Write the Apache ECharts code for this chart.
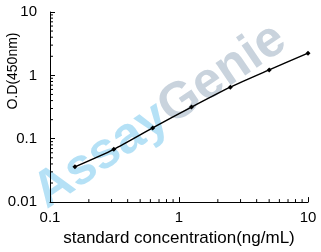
<!DOCTYPE html>
<html>
<head>
<meta charset="utf-8">
<script src="https://cdn.jsdelivr.net/npm/echarts@6/dist/echarts.min.js"></script>
<style>html,body{margin:0;padding:0;background:#fff}#c{width:321px;height:252px}</style>
</head>
<body>
<div id="c"></div>
<script>
var concentrations = [0.156, 0.3125, 0.625, 1.25, 2.5, 5, 10];
var odValues = [0.036, 0.068, 0.148, 0.316, 0.652, 1.22, 2.24];
var xMinorTicks = [0.2,0.3,0.4,0.5,0.6,0.7,0.8,0.9,2,3,4,5,6,7,8,9];
var yMinorTicks = [0.02,0.03,0.04,0.05,0.06,0.07,0.08,0.09,0.2,0.3,0.4,0.5,0.6,0.7,0.8,0.9,2,3,4,5,6,7,8,9];
var xTitle = 'standard concentration(ng/mL)';
var yTitle = 'O.D(450nm)';

var FONT = '"Liberation Sans", Arial, sans-serif';
var chart = echarts.init(document.getElementById('c'), null, {renderer: 'canvas'});

function tickSeries(vals, isX) {
  return {
    type: 'custom',
    silent: true,
    z: 3,
    data: vals.map(function (v) { return isX ? [v, 0.01] : [0.1, v]; }),
    renderItem: function (params, api) {
      var p = api.coord([api.value(0), api.value(1)]);
      var shape = isX ? {x1: p[0], y1: p[1], x2: p[0], y2: p[1] - 3}
                      : {x1: p[0], y1: p[1], x2: p[0] + 3, y2: p[1]};
      return {type: 'line', shape: shape, style: {stroke: '#000', lineWidth: 1}};
    }
  };
}

chart.setOption({
  animation: false,
  backgroundColor: '#fff',
  grid: {left: 50, right: 13, top: 12, bottom: 46},
  graphic: [
    {
      type: 'text', z: -10, x: 160, y: 116, rotation: 34 * Math.PI / 180,
      style: {
        text: '{a|Assay}{g|Genie}',
        align: 'center', verticalAlign: 'middle',
        rich: {
          a: {fill: '#b5e1f6', font: 'bold 51px ' + FONT},
          g: {fill: '#c9d3dd', font: 'bold 51px ' + FONT}
        }
      }
    },
    {
      type: 'text', x: 13, y: 71, rotation: Math.PI / 2,
      style: {text: yTitle, fill: '#000', font: '14px ' + FONT, align: 'center', verticalAlign: 'middle'}
    }
  ],
  xAxis: {
    type: 'log', logBase: 10, min: 0.1, max: 10,
    name: xTitle, nameLocation: 'middle', nameGap: 22,
    nameTextStyle: {color: '#000', fontSize: 17, fontFamily: FONT},
    axisLine: {show: true, lineStyle: {color: '#000', width: 1}},
    axisTick: {show: true, inside: true, length: 5, lineStyle: {color: '#000'}},
    axisLabel: {color: '#000', fontSize: 15, fontFamily: FONT, margin: 8,
      formatter: function (v) { return String(+v.toPrecision(3)); }},
    splitLine: {show: false}
  },
  yAxis: {
    type: 'log', logBase: 10, min: 0.01, max: 10,
    axisLine: {show: true, lineStyle: {color: '#000', width: 1}},
    axisTick: {show: true, inside: true, length: 5, lineStyle: {color: '#000'}},
    axisLabel: {color: '#000', fontSize: 15, fontFamily: FONT, margin: 13,
      formatter: function (v) { return String(+v.toPrecision(3)); }},
    splitLine: {show: false}
  },
  series: [
    {
      type: 'line', z: 5,
      data: concentrations.map(function (c, i) { return [c, odValues[i]]; }),
      smooth: 0.25,
      symbol: 'diamond', symbolSize: 5,
      lineStyle: {color: '#000', width: 1.5},
      itemStyle: {color: '#000'}
    },
    tickSeries(xMinorTicks, true),
    tickSeries(yMinorTicks, false)
  ]
});
</script>
</body>
</html>
